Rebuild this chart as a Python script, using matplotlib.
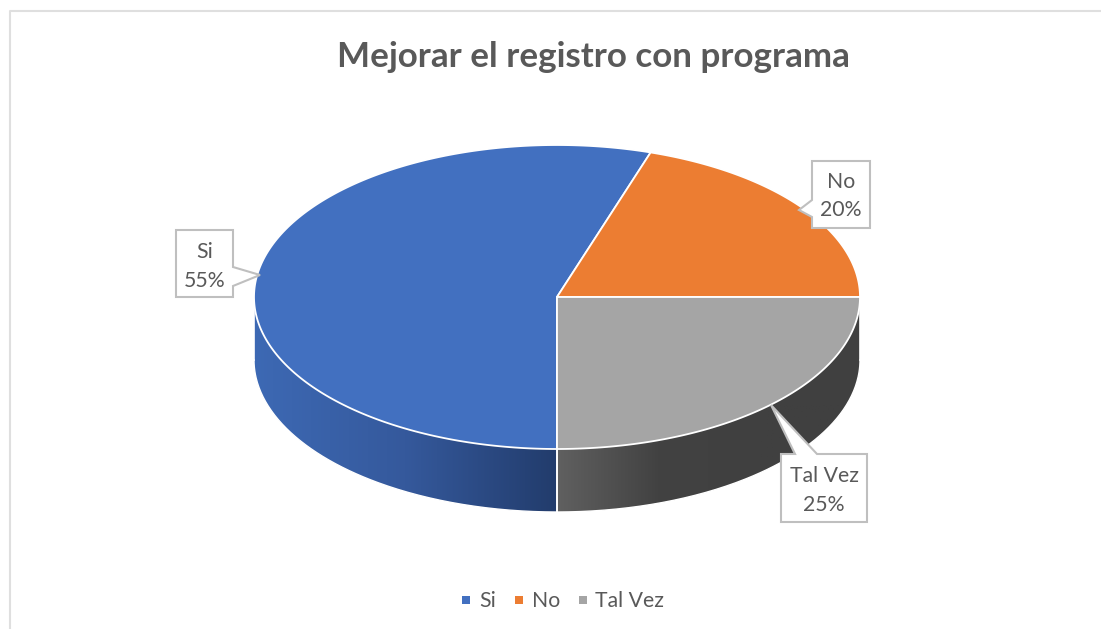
import numpy as np
import matplotlib
matplotlib.use("Agg")
import matplotlib.pyplot as plt
import matplotlib.colors as clr
from matplotlib.patches import Polygon

# data
categories = ['Si', 'No', 'Tal Vez']
values = [55, 20, 25]
pct_labels = ['55%', '20%', '25%']
colors = ['#4270c0', '#ec7d32', '#a5a5a5']
side_colors = {
    'Si': ['#3d69b4', '#35599c', '#223c6c'],
    'Tal Vez': ['#606060', '#424242', '#404040', '#404040'],
}

# layout in pixels
cx, cy = 557, 297
rx, ry = 303, 152
depth = 63
start_angle = 270
text_col = '#595959'
font = ['Lato', 'DejaVu Sans']
label_size = 15.3


def rim(a0, a1, n=200):
    t = np.radians(np.linspace(a0, a1, n))
    return cx + rx * np.cos(t), cy - ry * np.sin(t)


fig = plt.figure(figsize=(11.01, 6.29), dpi=100)
ax = fig.add_axes([0, 0, 1, 1])
ax.set_xlim(0, 1101)
ax.set_ylim(629, 0)
ax.axis('off')

# chart border
ax.plot([10, 10, 1101], [629, 11, 11], color='#dfdfdf', lw=1.5)

# work out the slice angles, clockwise from the start angle
angles = start_angle - np.concatenate([[0], np.cumsum(values)]) / np.sum(values) * 360

# side wall first
for i, name in enumerate(categories):
    lo, hi = angles[i + 1], angles[i]
    lo2, hi2 = max(lo, 180), min(hi, 360)
    if lo < 0:
        lo2, hi2 = lo + 360, 360
    if hi2 <= lo2:
        continue
    x, y = rim(lo2, hi2)
    xs = np.concatenate([x, x[::-1]])
    ys = np.concatenate([y, y[::-1] + depth])
    poly = Polygon(np.c_[xs, ys], closed=True, facecolor='none', edgecolor='none')
    ax.add_patch(poly)
    cmap = clr.LinearSegmentedColormap.from_list('side' + str(i), side_colors[name])
    grad = np.linspace(0, 1, 256).reshape(1, -1)
    im = ax.imshow(grad, cmap=cmap, aspect='auto', zorder=2,
                   extent=[x.min(), x.max(), y.max() + depth, y.min()])
    im.set_clip_path(poly)
    ax.plot(x, y + depth, color='white', lw=1, zorder=3)
    ax.plot([x[0], x[0]], [y[0], y[0] + depth], color='white', lw=1.2, zorder=3)
    ax.plot([x[-1], x[-1]], [y[-1], y[-1] + depth], color='white', lw=1.2, zorder=3)
ax.set_xlim(0, 1101)
ax.set_ylim(629, 0)

# top of the pie
for i, name in enumerate(categories):
    x, y = rim(angles[i], angles[i + 1])
    pts = np.c_[np.r_[cx, x], np.r_[cy, y]]
    ax.add_patch(Polygon(pts, closed=True, facecolor=colors[i], edgecolor='white',
                         lw=1.3, zorder=4, joinstyle='round'))

# callouts
callouts = {
    'Si': [(176, 230), (233, 230), (233, 267), (260, 275), (233, 286), (233, 297), (176, 297)],
    'No': [(812, 161), (870, 161), (870, 228), (812, 228), (812, 217), (799, 210), (812, 200)],
    'Tal Vez': [(781, 454), (795, 454), (771, 405), (817, 454), (867, 454), (867, 522), (781, 522)],
}
label_pos = {'Si': (205, 252, 281), 'No': (841, 182, 210), 'Tal Vez': (824, 476, 505)}
for i, name in enumerate(categories):
    ax.add_patch(Polygon(callouts[name], closed=True, facecolor='white', edgecolor='#bfbfbf',
                         lw=1.5, zorder=5, joinstyle='miter'))
    lx, ly1, ly2 = label_pos[name]
    ax.text(lx, ly1, name, ha='center', va='center', fontsize=label_size, color=text_col,
            family=font, zorder=6)
    ax.text(lx, ly2, pct_labels[i], ha='center', va='center', fontsize=label_size, color=text_col,
            family=font, zorder=6)

ax.text(593.5, 57, 'Mejorar el registro con programa', ha='center', va='center',
        fontsize=25.2, fontweight='bold', color=text_col, family=font)

# legend
legend_marks = [466, 519, 583]
legend_text = [479, 532, 595]
for i, name in enumerate(categories):
    ax.scatter(legend_marks[i], 600, marker='s', s=30, color=colors[i], linewidths=0)
    ax.text(legend_text[i], 601, name, ha='left', va='center', fontsize=label_size,
            color=text_col, family=font)

plt.savefig('out.png', dpi=100)
